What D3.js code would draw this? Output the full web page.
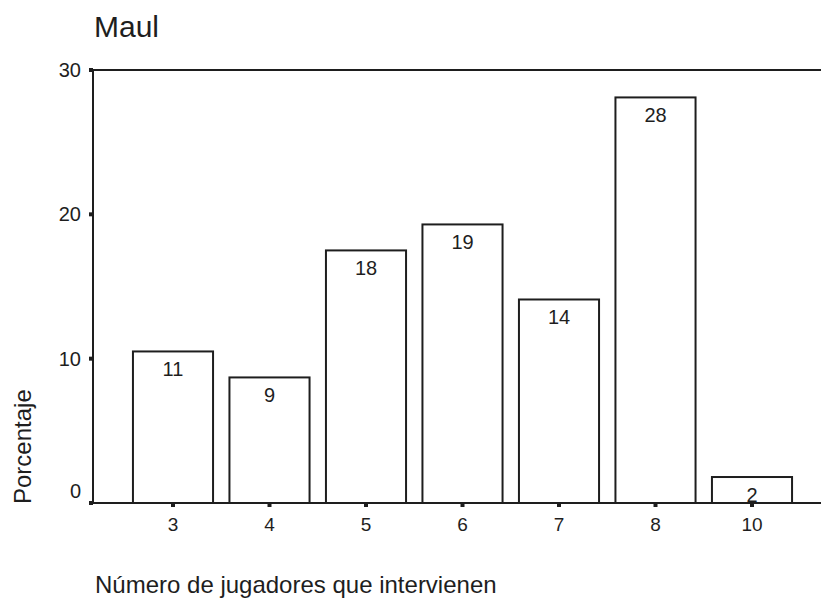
<!DOCTYPE html>
<html>
<head>
<meta charset="utf-8">
<script src="https://cdn.jsdelivr.net/npm/d3@7"></script>
<style>
  body { margin: 0; background: #fff; }
  svg { display: block; font-family: Arial, "Liberation Sans", sans-serif; }
</style>
</head>
<body>
<div id="chart"></div>
<script>
// categories (number of players) and percentages
const categories = ["3", "4", "5", "6", "7", "8", "10"]
const percents = [10.5, 8.7, 17.5, 19.3, 14.1, 28.1, 1.8]
const barLabels = ["11", "9", "18", "19", "14", "28", "2"]
const yTicks = [0, 10, 20, 30]

const width = 821
const height = 599
const ink = "#1e1e1e"

const svg = d3.select("#chart").append("svg")
    .attr("width", width)
    .attr("height", height)

// plot area edges
const plotLeft = 93, plotTop = 70, plotBottom = 503, plotRight = 821

const x = d3.scaleBand()
    .domain(categories)
    .range([124.75, 800.25])
    .paddingInner(0.17)
    .paddingOuter(0.085)

const y = d3.scaleLinear()
    .domain([0, 30])
    .range([plotBottom, plotTop])

// bars
svg.append("g")
    .selectAll("rect")
    .data(categories)
    .join("rect")
    .attr("x", d => x(d))
    .attr("y", (d, i) => y(percents[i]))
    .attr("width", x.bandwidth())
    .attr("height", (d, i) => y(0) - y(percents[i]))
    .attr("fill", "#fff")
    .attr("stroke", ink)
    .attr("stroke-width", 2)

// value labels inside the bars
svg.append("g")
    .selectAll("text")
    .data(categories)
    .join("text")
    .attr("x", d => x(d) + x.bandwidth() / 2)
    .attr("y", (d, i) => y(percents[i]) + 25)
    .attr("text-anchor", "middle")
    .attr("font-size", 20)
    .attr("fill", ink)
    .text((d, i) => barLabels[i])

// frame: left axis, top line and baseline
svg.append("line").attr("x1", plotLeft).attr("x2", plotLeft).attr("y1", plotTop).attr("y2", plotBottom)
    .attr("stroke", ink).attr("stroke-width", 2)
svg.append("line").attr("x1", plotLeft).attr("x2", plotRight).attr("y1", plotTop).attr("y2", plotTop)
    .attr("stroke", ink).attr("stroke-width", 2)
svg.append("line").attr("x1", plotLeft).attr("x2", plotRight).attr("y1", plotBottom).attr("y2", plotBottom)
    .attr("stroke", ink).attr("stroke-width", 2)

// y ticks: small squares left of the axis (the 0 label sits a bit higher)
const yAxis = svg.append("g")
yAxis.selectAll("rect")
    .data(yTicks)
    .join("rect")
    .attr("x", plotLeft - 4)
    .attr("y", d => y(d) - 2)
    .attr("width", 4)
    .attr("height", 4)
    .attr("fill", ink)
yAxis.selectAll("text")
    .data(yTicks)
    .join("text")
    .attr("x", plotLeft - 12)
    .attr("y", d => d === 0 ? y(d) - 12 : y(d))
    .attr("dy", "0.35em")
    .attr("text-anchor", "end")
    .attr("font-size", 20)
    .attr("fill", ink)
    .text(d => d)

// x ticks: small squares under the baseline
const xAxis = svg.append("g")
xAxis.selectAll("rect")
    .data(categories)
    .join("rect")
    .attr("x", d => x(d) + x.bandwidth() / 2 - 2)
    .attr("y", plotBottom)
    .attr("width", 4)
    .attr("height", 4)
    .attr("fill", ink)
xAxis.selectAll("text")
    .data(categories)
    .join("text")
    .attr("x", d => x(d) + x.bandwidth() / 2)
    .attr("y", 531)
    .attr("text-anchor", "middle")
    .attr("font-size", 19)
    .attr("fill", ink)
    .text(d => d)

// titles
svg.append("text")
    .attr("x", 94)
    .attr("y", 37)
    .attr("font-size", 30)
    .attr("fill", ink)
    .text("Maul")

svg.append("text")
    .attr("transform", "translate(31,504) rotate(-90)")
    .attr("font-size", 24)
    .attr("fill", ink)
    .text("Porcentaje")

svg.append("text")
    .attr("x", 95)
    .attr("y", 593)
    .attr("font-size", 24)
    .attr("fill", ink)
    .text("Número de jugadores que intervienen")
</script>
</body>
</html>
